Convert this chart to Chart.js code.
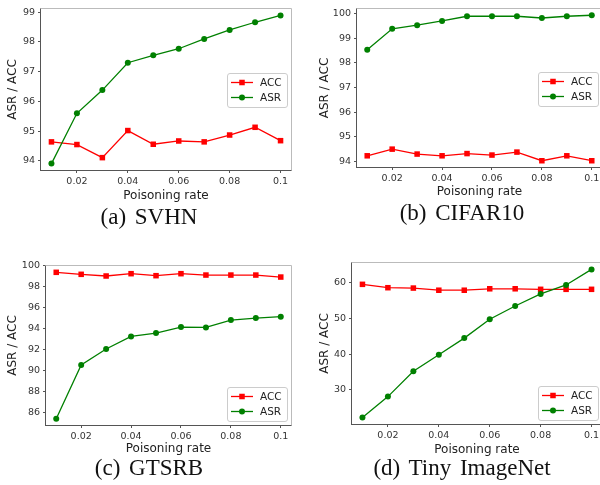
<!DOCTYPE html>
<html>
<head>
<meta charset="utf-8">
<script src="https://cdn.jsdelivr.net/npm/chart.js@4.4.1/dist/chart.umd.min.js"></script>
<style>
  html, body { margin: 0; padding: 0; background: #fff; overflow: hidden; width: 600px; height: 485px; }
  canvas { position: absolute; }
  .cap { position: absolute; width: 300px; text-align: center; white-space: nowrap;
         font-family: "Liberation Serif", "Times New Roman", serif; font-size: 23px; line-height: 23px;
         color: #111; word-spacing: 3px; }
</style>
</head>
<body>
<canvas id="svhn" width="300" height="205" style="left:0px;top:0px"></canvas>
<canvas id="cifar" width="310" height="205" style="left:300px;top:0px"></canvas>
<canvas id="gtsrb" width="300" height="225" style="left:0px;top:240px"></canvas>
<canvas id="tiny" width="310" height="225" style="left:300px;top:240px"></canvas>

<div class="cap" style="left:-1px;top:205px">(a) SVHN</div>
<div class="cap" style="left:312px;top:201px">(b) CIFAR10</div>
<div class="cap" style="left:-1px;top:456px">(c) GTSRB</div>
<div class="cap" style="left:312px;top:456px">(d) Tiny ImageNet</div>

<script>
// poisoning rates on the x axis
const rates = [0.01, 0.02, 0.03, 0.04, 0.05, 0.06, 0.07, 0.08, 0.09, 0.1];
const xTicks = [0.02, 0.04, 0.06, 0.08, 0.1];
const xTickLabels = ['0.02', '0.04', '0.06', '0.08', '0.1'];

// (a) SVHN
const svhnAcc = [94.64, 94.55, 94.11, 95.02, 94.56, 94.67, 94.64, 94.87, 95.13, 94.68];
const svhnAsr = [93.91, 95.60, 96.38, 97.30, 97.55, 97.77, 98.10, 98.40, 98.66, 98.89];
const svhnTicks = [94, 95, 96, 97, 98, 99];

// (b) CIFAR10
const cifarAcc = [94.23, 94.50, 94.30, 94.23, 94.32, 94.26, 94.38, 94.03, 94.23, 94.03];
const cifarAsr = [98.53, 99.38, 99.53, 99.70, 99.89, 99.89, 99.89, 99.82, 99.89, 99.93];
const cifarTicks = [94, 95, 96, 97, 98, 99, 100];

// (c) GTSRB
const gtsrbAcc = [99.37, 99.18, 99.02, 99.24, 99.05, 99.24, 99.11, 99.11, 99.11, 98.92];
const gtsrbAsr = [85.46, 90.56, 92.08, 93.28, 93.60, 94.17, 94.13, 94.83, 95.02, 95.15];
const gtsrbTicks = [86, 88, 90, 92, 94, 96, 98, 100];

// (d) Tiny ImageNet
const tinyAcc = [59.44, 58.50, 58.40, 57.80, 57.80, 58.20, 58.20, 58.05, 58.05, 58.05];
const tinyAsr = [22.30, 28.15, 35.20, 39.80, 44.45, 49.70, 53.40, 56.76, 59.26, 63.60];
const tinyTicks = [30, 40, 50, 60];

const tickFont = { family: 'DejaVu Sans', size: 9.5 };
const labelFont = { family: 'DejaVu Sans', size: 12 };

// matplotlib style 5% margins
function limits(a, b) {
  const lo = Math.min(...a, ...b);
  const hi = Math.max(...a, ...b);
  const m = (hi - lo) * 0.05;
  return [lo - m, hi + m];
}

function points(ys) {
  return rates.map((x, i) => ({ x: x, y: ys[i] }));
}

// axes box: darker left/bottom, lighter top/right like the picture
const frame = {
  id: 'frame',
  afterDatasetsDraw(chart) {
    const { ctx, chartArea: a } = chart;
    const l = Math.round(a.left) + 0.5, r = Math.round(a.right) - 0.5;
    const t = Math.round(a.top) + 0.5, b = Math.round(a.bottom) - 0.5;
    ctx.save();
    ctx.lineWidth = 1;
    const seg = (x1, y1, x2, y2, c) => {
      ctx.strokeStyle = c;
      ctx.beginPath(); ctx.moveTo(x1, y1); ctx.lineTo(x2, y2); ctx.stroke();
    };
    seg(l, t, r, t, '#bbb');
    seg(r, t, r, b, '#bbb');
    seg(l, t, l, b, '#555');
    seg(l - 0.5, b, r, b, '#555');
    ctx.restore();
  }
};

// matplotlib-like legend: line handle with marker in the middle
const legendBox = {
  id: 'legendBox',
  afterDraw(chart, args, opts) {
    const { ctx, chartArea: a } = chart;
    const w = 60, h = 34;
    const left = a.right - 5 - w;
    const top = opts.loc === 'lower' ? a.bottom - 5 - h : (a.top + a.bottom) / 2 - h / 2 + 0.5;
    ctx.save();
    ctx.fillStyle = 'rgba(255,255,255,0.8)';
    ctx.strokeStyle = '#ccc';
    ctx.lineWidth = 1;
    ctx.beginPath();
    ctx.roundRect(Math.round(left) + 0.5, Math.round(top) + 0.5, w, h, 2.5);
    ctx.fill();
    ctx.stroke();
    chart.data.datasets.forEach((ds, i) => {
      const y = Math.round(top) + 9.5 + i * 15;
      const x0 = left + 4, x1 = left + 26, xm = (x0 + x1) / 2;
      ctx.strokeStyle = ds.borderColor;
      ctx.lineWidth = ds.borderWidth;
      ctx.beginPath(); ctx.moveTo(x0, y); ctx.lineTo(x1, y); ctx.stroke();
      ctx.fillStyle = ds.borderColor;
      ctx.beginPath();
      if (ds.pointStyle === 'rect') {
        const s = ds.pointRadius * Math.SQRT1_2;
        ctx.rect(xm - s, y - s, 2 * s, 2 * s);
      } else {
        ctx.arc(xm, y, ds.pointRadius, 0, Math.PI * 2);
      }
      ctx.fill();
      ctx.fillStyle = '#222';
      ctx.font = '10.5px "DejaVu Sans"';
      ctx.textBaseline = 'middle';
      ctx.textAlign = 'left';
      ctx.fillText(ds.label, left + 33, y + 0.5);
    });
    ctx.restore();
  }
};

function makeChart(id, acc, asr, yTicks, box) {
  const [yMin, yMax] = limits(acc, asr);
  return new Chart(document.getElementById(id), {
    type: 'line',
    data: {
      datasets: [
        { label: 'ACC', data: points(acc), borderColor: '#ff0000', backgroundColor: '#ff0000',
          borderWidth: 1.3, pointStyle: 'rect', pointRadius: 3.9, pointBorderWidth: 0, order: 1 },
        { label: 'ASR', data: points(asr), borderColor: '#008000', backgroundColor: '#008000',
          borderWidth: 1.3, pointStyle: 'circle', pointRadius: 3, pointBorderWidth: 0, order: 0 }
      ]
    },
    options: {
      responsive: false,
      animation: false,
      devicePixelRatio: 1,
      layout: { padding: { left: 0, top: box.top, right: box.right, bottom: 0 } },
      plugins: {
        legend: { display: false },
        tooltip: { enabled: false },
        legendBox: { loc: box.legend }
      },
      scales: {
        x: {
          type: 'linear',
          min: 0.0055,
          max: 0.1045,
          afterBuildTicks: s => { s.ticks = xTicks.map(v => ({ value: v })); },
          afterFit: s => { s.height = box.xHeight; s.paddingLeft = 0; s.paddingRight = 0; },
          ticks: { callback: (v, i) => xTickLabels[i], font: tickFont, color: '#333',
                   padding: 3, maxRotation: 0, autoSkip: false },
          grid: { drawOnChartArea: false, tickLength: 2, color: '#555' },
          border: { display: false },
          title: { display: true, text: 'Poisoning rate', font: labelFont, color: '#222',
                   padding: { top: 0, bottom: box.xPad } }
        },
        y: {
          type: 'linear',
          min: yMin,
          max: yMax,
          afterBuildTicks: s => { s.ticks = yTicks.map(v => ({ value: v })); },
          afterFit: s => { s.width = box.yWidth; s.paddingTop = 0; s.paddingBottom = 0; },
          ticks: { callback: v => String(v), font: tickFont, color: '#333', padding: 3, autoSkip: false },
          grid: { drawOnChartArea: false, tickLength: 2, color: '#555' },
          border: { display: false },
          title: { display: true, text: 'ASR / ACC', font: labelFont, color: '#222',
                   padding: { top: box.yPad, bottom: 0 } }
        }
      }
    },
    plugins: [frame, legendBox]
  });
}

makeChart('svhn', svhnAcc, svhnAsr, svhnTicks,
  { yWidth: 40, top: 8, right: 8, xHeight: 34, xPad: 2, yPad: 6.1, legend: 'center' });
makeChart('cifar', cifarAcc, cifarAsr, cifarTicks,
  { yWidth: 56, top: 8, right: 7, xHeight: 37, xPad: 6, yPad: 17.8, legend: 'center' });
makeChart('gtsrb', gtsrbAcc, gtsrbAsr, gtsrbTicks,
  { yWidth: 45, top: 25, right: 8, xHeight: 39, xPad: 8.6, yPad: 6.1, legend: 'lower' });
makeChart('tiny', tinyAcc, tinyAsr, tinyTicks,
  { yWidth: 51, top: 22, right: 7, xHeight: 40, xPad: 7.6, yPad: 17.8, legend: 'lower' });
</script>
</body>
</html>
